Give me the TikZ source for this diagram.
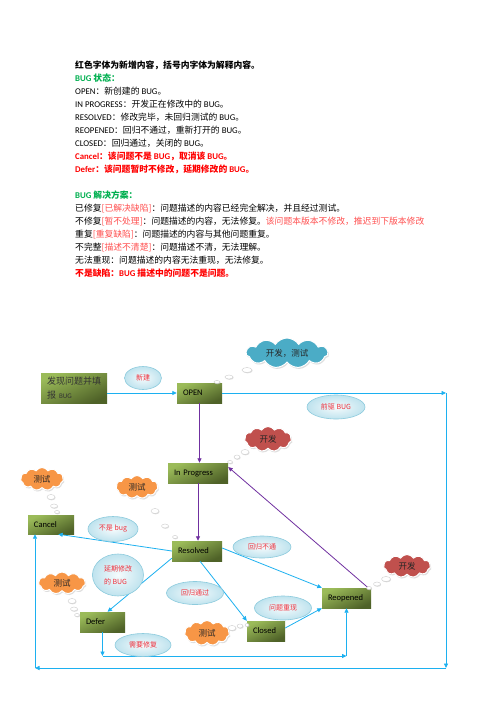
\documentclass[tikz,border=0pt]{standalone}
\usepackage{fontspec}
\setmainfont{Carlito}
\newfontfamily\cjk{Noto Sans CJK SC}
\usetikzlibrary{shapes.geometric,shapes.symbols,shadows,arrows.meta,backgrounds}

\definecolor{okgreen}{HTML}{00B050}
\definecolor{hired}{HTML}{FF0000}
\definecolor{softred}{HTML}{FF5050}
\definecolor{boxlight}{HTML}{9BBB59}
\definecolor{boxdark}{HTML}{4F6228}
\definecolor{flowblue}{HTML}{1CB0F0}
\definecolor{flowpurple}{HTML}{7030A0}
\definecolor{lblfill}{HTML}{BFE3EE}
\definecolor{lbledge}{HTML}{8DCBDD}
\definecolor{lbltext}{HTML}{F0303C}
\definecolor{cloudblue}{HTML}{4BACC6}
\definecolor{cloudred}{HTML}{C0504D}
\definecolor{cloudorange}{HTML}{F79646}
\definecolor{shadowgreen}{HTML}{E4ECD4}

\newcommand{\zh}[1]{{\cjk #1}}

\tikzset{
  txt/.style={anchor=west, inner sep=0pt, font=\fontsize{8.8}{10}\selectfont, text height=7pt, text depth=2pt},
  stbox/.style={rectangle, top color=boxlight, bottom color=boxdark, shading angle=25,
    inner xsep=6pt, inner ysep=0pt, minimum height=20pt, align=left,
    font=\fontsize{8.5}{10}\selectfont, text=black},
  lbl/.style={ellipse, draw=lbledge, line width=0.6pt, inner color=white!85!lblfill, outer color=lblfill,
    text=lbltext, font=\cjk\fontsize{7}{13}\selectfont, inner sep=0pt},
  thought/.style={cloud, cloud puffs=11, cloud puff arc=115, cloud ignores aspect, draw=white, line width=1pt,
    inner sep=0pt, drop shadow={shadow xshift=1pt, shadow yshift=-1.5pt, fill=black!25},
    font=\cjk\fontsize{8.5}{10}\selectfont, text=black!85},
  bub/.style={ellipse, fill=white, draw=black!20, line width=0.4pt, inner sep=0pt,
    drop shadow={shadow xshift=0.6pt, shadow yshift=-0.8pt, fill=black!25}},
  flow/.style={draw=flowblue, line width=0.8pt, -{Triangle[length=4.5pt,width=4pt]}},
  pflow/.style={draw=flowpurple, line width=0.8pt, -{Triangle[length=4.5pt,width=4pt]}}
}

\begin{document}
\begin{tikzpicture}[x=1pt,y=-1pt]
\fill[white] (0,0) rectangle (496,702);
\useasboundingbox (0,0) rectangle (496,702);

% ---------- text block ----------
\node[txt] (t1) at (75,66) {\bfseries\zh{红色字体为新增内容，括号内字体为解释内容。}};
\node[txt] (t2) at (75,79) {\color{okgreen}\bfseries BUG \zh{状态：}};
\node[txt] (t3) at (75,92) {OPEN\zh{：新创建的} BUG\zh{。}};
\node[txt] (t4) at (75,105) {IN PROGRESS\zh{：开发正在修改中的} BUG\zh{。}};
\node[txt] (t5) at (75,118) {RESOLVED\zh{：修改完毕，未回归测试的} BUG\zh{。}};
\node[txt] (t6) at (75,131) {REOPENED\zh{：回归不通过，重新打开的} BUG\zh{。}};
\node[txt] (t7) at (75,144) {CLOSED\zh{：回归通过，关闭的} BUG\zh{。}};
\node[txt] (t8) at (75,157) {\color{hired}\bfseries Cancel\zh{：该问题不是} BUG\zh{，取消该} BUG\zh{。}};
\node[txt] (t9) at (75,170) {\color{hired}\bfseries Defer\zh{：该问题暂时不修改，延期修改的} BUG\zh{。}};
\node[txt] (t10) at (75,196) {\color{okgreen}\bfseries BUG \zh{解决方案：}};
\node[txt] (t11) at (75,209) {\zh{已修复}{\color{softred}\zh{[已解决缺陷]}}\zh{：问题描述的内容已经完全解决，并且经过测试。}};
\node[txt] (t12) at (75,222) {\zh{不修复}{\color{softred}\zh{[暂不处理]}}\zh{：问题描述的内容，无法修复。}{\color{softred}\zh{该问题本版本不修改，推迟到下版本修改}}};
\node[txt] (t13) at (75,235) {\zh{重复}{\color{softred}\zh{[重复缺陷]}}\zh{：问题描述的内容与其他问题重复。}};
\node[txt] (t14) at (75,248) {\zh{不完整}{\color{softred}\zh{[描述不清楚]}}\zh{：问题描述不清，无法理解。}};
\node[txt] (t15) at (75,261) {\zh{无法重现：问题描述的内容无法重现，无法修复。}};
\node[txt] (t16) at (75,274) {\color{hired}\bfseries\zh{不是缺陷：}BUG \zh{描述中的问题不是问题。}};

% ---------- state boxes ----------
\node[stbox, text width=54pt, minimum height=30pt, font=\cjk\fontsize{9}{14}\selectfont, text=black!80] (start) at (74,388)
  {发现问题并填\\报 {\rmfamily\fontsize{7}{14}\selectfont BUG}};
\node[stbox, text width=33pt] (open) at (199.5,393) {OPEN};
\node[stbox, text width=48pt] (inprog) at (198,473) {In Progress};
\node[stbox, text width=38pt] (resolved) at (197,551) {Resolved};
\node[stbox, text width=37pt] (reopened) at (346.5,598) {Reopened};
\node[stbox, text width=26pt] (closed) at (266,631) {Closed};
\node[stbox, text width=33pt] (defer) at (102.5,622) {Defer};
\node[stbox, text width=34pt, minimum height=19pt] (cancel) at (51,524.5) {Cancel};

\begin{scope}[on background layer]
\foreach \n/\h/\w in {start/15/23, open/9/14, inprog/9/14, resolved/9/14, reopened/9/14, closed/9/14, defer/9/14, cancel/9/14}
  \fill[shadowgreen] (\n.south east) -- ([yshift=\h pt]\n.south east) -- ([xshift=\w pt, yshift=\h pt]\n.south east) -- cycle;
\end{scope}

% ---------- connectors ----------
\coordinate (ctr) at (446,393);
\coordinate (cbr) at (446,668);
\coordinate (cbl) at (35,668);
\coordinate (dl) at (102.5,656);
\coordinate (dr) at (346.5,656);

\draw[flow] (start.east |- open.west) -- (open.west);
\draw[flow] (open.east) -- (ctr);
\draw[flow] (ctr) -- (cbr);
\draw[flow] (cbr) -- (cbl);
\draw[flow] (cbl) -- (cbl |- cancel.south);

\draw[pflow] (open.south) -- (open.south |- inprog.north);
\draw[pflow] (inprog.south) -- (inprog.south |- resolved.north);
\draw[pflow] ([xshift=-3pt]reopened.north east) -- ([yshift=6pt]inprog.east);

\draw[flow] (resolved.west) -- ([xshift=-16pt]cancel.south east);
\draw[flow] ([yshift=3pt]resolved.east) -- (reopened.north west);
\draw[flow] ([yshift=3pt]resolved.south west) -- ([xshift=5pt]defer.north);
\draw[flow] ([xshift=3pt]resolved.south) -- (closed.north west);
\draw[flow] ([yshift=3pt]closed.east) -- (reopened.south west);

\draw[flow] (defer.south) -- (dl);
\draw[flow] (dl) -- (dr);
\draw[flow] (dr) -- (reopened.south);

% ---------- edge labels ----------
\node[lbl, minimum width=37pt, minimum height=23pt] (lnew) at (143,378) {新建};
\node[lbl, minimum width=58pt, minimum height=24pt] (lpre) at (336,407) {前驱 BUG};
\node[lbl, minimum width=50pt, minimum height=25pt] (lnotbug) at (113,529) {不是 bug};
\node[lbl, minimum width=58pt, minimum height=22pt] (lfail) at (262,547) {回归不通};
\node[lbl, minimum width=51pt, minimum height=42pt, align=left] (ldefer) at (118,575) {延期修改\\的 BUG};
\node[lbl, minimum width=57pt, minimum height=23pt] (lpass) at (195,593) {回归通过};
\node[lbl, minimum width=57pt, minimum height=24pt] (lrepro) at (283,608) {问题重现};
\node[lbl, minimum width=56pt, minimum height=23pt] (lfix) at (143,645) {需要修复};

% ---------- thought clouds ----------
\node[thought, fill=cloudblue, minimum width=82pt, minimum height=30pt] (cdt) at (287,353) {开发，测试};
\node[bub, minimum width=10pt, minimum height=5pt] (b1a) at (247,370) {};
\node[bub, minimum width=8pt, minimum height=4pt] (b1b) at (229,377) {};
\node[bub, minimum width=6pt, minimum height=3pt] (b1c) at (217,382) {};

\node[thought, fill=cloudred, minimum width=47pt, minimum height=25pt] (cdev1) at (268,439) {开发};
\node[bub, minimum width=8pt, minimum height=5pt] (b2a) at (245,452) {};
\node[bub, minimum width=6pt, minimum height=4pt] (b2b) at (237,457) {};
\node[bub, minimum width=5pt, minimum height=3pt] (b2c) at (230,462) {};

\node[thought, fill=cloudorange, minimum width=43pt, minimum height=23pt] (ct1) at (42,479) {测试};
\node[bub, minimum width=8pt, minimum height=5pt] (b3a) at (51,497) {};
\node[bub, minimum width=7pt, minimum height=4pt] (b3b) at (54,506) {};
\node[bub, minimum width=5pt, minimum height=3pt] (b3c) at (57,512) {};

\node[thought, fill=cloudorange, minimum width=42pt, minimum height=23pt] (ct2) at (137,487) {测试};
\node[bub, minimum width=8pt, minimum height=5pt] (b4a) at (155,511) {};
\node[bub, minimum width=7pt, minimum height=4pt] (b4b) at (165,526) {};
\node[bub, minimum width=5pt, minimum height=3pt] (b4c) at (175,537) {};

\node[thought, fill=cloudorange, minimum width=47pt, minimum height=22pt] (ct3) at (62,583) {测试};
\node[bub, minimum width=8pt, minimum height=5pt] (b5a) at (72,601) {};
\node[bub, minimum width=7pt, minimum height=4pt] (b5b) at (74,609) {};
\node[bub, minimum width=5pt, minimum height=3pt] (b5c) at (77,615) {};

\node[thought, fill=cloudorange, minimum width=45pt, minimum height=25pt] (ct4) at (207,633) {测试};
\node[bub, minimum width=8pt, minimum height=5pt] (b6a) at (232,628) {};
\node[bub, minimum width=6pt, minimum height=4pt] (b6b) at (240,626) {};
\node[bub, minimum width=4pt, minimum height=3pt] (b6c) at (247,625) {};

\node[thought, fill=cloudred, minimum width=47pt, minimum height=23pt] (cdev2) at (407,566) {开发};
\node[bub, minimum width=9pt, minimum height=5pt] (b7a) at (386,579) {};
\node[bub, minimum width=7pt, minimum height=4pt] (b7b) at (377,584) {};
\node[bub, minimum width=5pt, minimum height=3pt] (b7c) at (369,588) {};
\end{tikzpicture}
\end{document}
